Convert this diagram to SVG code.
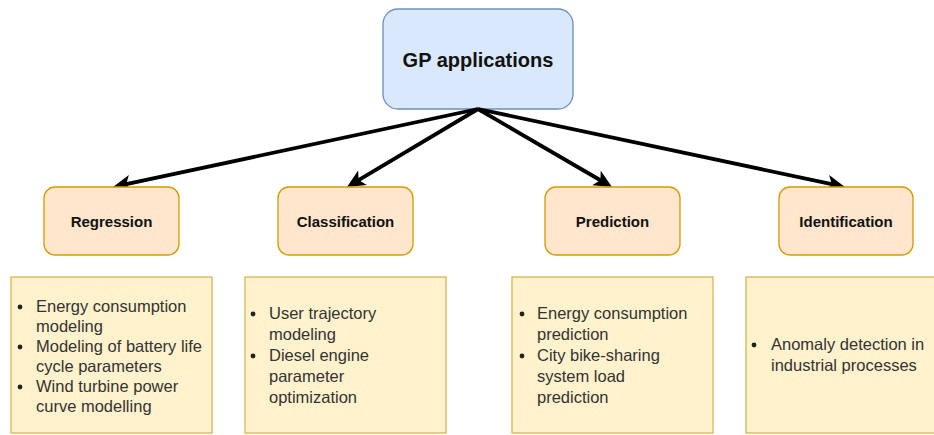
<svg xmlns="http://www.w3.org/2000/svg" width="934" height="435" viewBox="0 0 934 435">
  <style>
    .root { fill: #dae8fc; stroke: #6c8ebf; stroke-width: 1.3; }
    .cat { fill: #ffe6cc; stroke: #d79b00; stroke-width: 1.3; }
    .list { fill: #fff2cc; stroke: #d6b656; stroke-width: 1.3; }
    .title { font-family: "Liberation Sans", Arial, sans-serif; font-weight: bold; font-size: 20px; fill: #111; text-anchor: middle; }
    .label { font-family: "Liberation Sans", Arial, sans-serif; font-weight: bold; font-size: 15px; fill: #111; text-anchor: middle; }
    .item { font-family: "Liberation Sans", Arial, sans-serif; font-size: 16.5px; fill: #333; }
    .dot { fill: #222; }
    .edge { fill: none; stroke: #000; stroke-width: 3.8; }
  </style>
  <defs>
    <marker id="arrow" viewBox="-12 -12 34 24" markerWidth="34" markerHeight="24" refX="0" refY="0" markerUnits="userSpaceOnUse" orient="auto">
      <path d="M10,0 L-8,-8.5 L-3.5,0 L-8,8.5 Z" fill="#000"/>
    </marker>
  </defs>

  <!-- root node -->
  <g id="gp-applications">
    <rect class="root" x="383" y="9" width="190" height="100" rx="15"/>
    <text class="title" x="478" y="67">GP applications</text>
  </g>

  <!-- connectors from the root to each category -->
  <g id="connectors">
    <line class="edge" x1="478" y1="109" x2="122.8" y2="184.9" marker-end="url(#arrow)"/>
    <line class="edge" x1="478" y1="109" x2="355.6" y2="181.9" marker-end="url(#arrow)"/>
    <line class="edge" x1="478" y1="109" x2="603.4" y2="182" marker-end="url(#arrow)"/>
    <line class="edge" x1="478" y1="109" x2="835.2" y2="184.9" marker-end="url(#arrow)"/>
  </g>

  <!-- category nodes -->
  <g id="regression">
    <rect class="cat" x="44" y="187" width="135" height="68" rx="11"/>
    <text class="label" x="111.5" y="227">Regression</text>
  </g>
  <g id="classification">
    <rect class="cat" x="278" y="187" width="135" height="68" rx="11"/>
    <text class="label" x="345.5" y="227">Classification</text>
  </g>
  <g id="prediction">
    <rect class="cat" x="545" y="187" width="135" height="68" rx="11"/>
    <text class="label" x="612.5" y="227">Prediction</text>
  </g>
  <g id="identification">
    <rect class="cat" x="779" y="187" width="134" height="68" rx="11"/>
    <text class="label" x="846" y="227">Identification</text>
  </g>

  <!-- application lists -->
  <g id="regression-list">
    <rect class="list" x="11" y="277" width="201" height="156"/>
    <circle class="dot" cx="20" cy="307" r="2.4"/>
    <circle class="dot" cx="20" cy="347" r="2.4"/>
    <circle class="dot" cx="20" cy="387" r="2.4"/>
    <text class="item">
      <tspan x="36" y="312">Energy consumption</tspan>
      <tspan x="36" y="332">modeling</tspan>
      <tspan x="36" y="352">Modeling of battery life</tspan>
      <tspan x="36" y="372">cycle parameters</tspan>
      <tspan x="36" y="392">Wind turbine power</tspan>
      <tspan x="36" y="412">curve modelling</tspan>
    </text>
  </g>
  <g id="classification-list">
    <rect class="list" x="245" y="277" width="201" height="156"/>
    <circle class="dot" cx="253" cy="314" r="2.4"/>
    <circle class="dot" cx="253" cy="356" r="2.4"/>
    <text class="item">
      <tspan x="269" y="319">User trajectory</tspan>
      <tspan x="269" y="340">modeling</tspan>
      <tspan x="269" y="361">Diesel engine</tspan>
      <tspan x="269" y="382">parameter</tspan>
      <tspan x="269" y="403">optimization</tspan>
    </text>
  </g>
  <g id="prediction-list">
    <rect class="list" x="512" y="277" width="201" height="156"/>
    <circle class="dot" cx="522" cy="314" r="2.4"/>
    <circle class="dot" cx="522" cy="356" r="2.4"/>
    <text class="item">
      <tspan x="537" y="319">Energy consumption</tspan>
      <tspan x="537" y="340">prediction</tspan>
      <tspan x="537" y="361">City bike-sharing</tspan>
      <tspan x="537" y="382">system load</tspan>
      <tspan x="537" y="403">prediction</tspan>
    </text>
  </g>
  <g id="identification-list">
    <rect class="list" x="746" y="277" width="201" height="156"/>
    <circle class="dot" cx="754" cy="345" r="2.4"/>
    <text class="item">
      <tspan x="771" y="350">Anomaly detection in</tspan>
      <tspan x="771" y="371">industrial processes</tspan>
    </text>
  </g>
</svg>
